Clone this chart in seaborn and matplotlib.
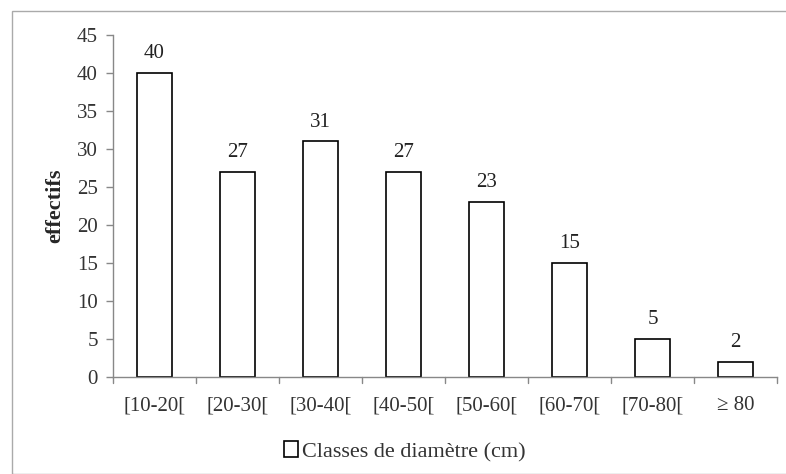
import matplotlib
matplotlib.use("Agg")
import matplotlib.pyplot as plt
import seaborn as sns
import pandas as pd
from matplotlib.patches import Rectangle

categories = ["[10-20[", "[20-30[", "[30-40[", "[40-50[", "[50-60[", "[60-70[", "[70-80[", "\u2265 80"]
values = [40, 27, 31, 27, 23, 15, 5, 2]
yticks = [0, 5, 10, 15, 20, 25, 30, 35, 40, 45]

sns.set_theme(style="white")
plt.rcParams['font.family'] = ['Liberation Serif', 'DejaVu Serif']

df = pd.DataFrame({"classe": categories, "effectifs": values})

fig = plt.figure(figsize=(7.86, 4.74), dpi=100)
fig.patch.set_facecolor("white")
ax = fig.add_axes([113/786, 1-377/474, (777-113)/786, (377-35)/474])

sns.barplot(data=df, x="classe", y="effectifs", color="white", edgecolor="black",
            linewidth=1.2, width=0.41, ax=ax, label="Classes de diamètre (cm)")

ax.set_ylim(0, 45)
ax.set_xlim(-0.5, len(categories) - 0.5)
ax.set_yticks(yticks)
ax.set_yticklabels([str(t) for t in yticks], fontsize=15, color="#333333")
ax.set_xticks(range(len(categories)))
ax.set_xticklabels(categories, fontsize=15, color="#333333")
ax.tick_params(axis="x", length=0, pad=14)
ax.tick_params(axis="y", length=5, width=1, color="#888888", left=True, pad=6)

# boundary ticks on x-axis
for b in [i - 0.5 for i in range(len(categories) + 1)]:
    ax.plot([b, b], [0, -0.8], color="#888888", lw=1, clip_on=False)

for s in ["top", "right"]:
    ax.spines[s].set_visible(False)
for s in ["left", "bottom"]:
    ax.spines[s].set_color("#888888")
    ax.spines[s].set_linewidth(1)

ax.set_xlabel("")
ax.set_ylabel("effectifs", fontsize=16, fontweight="bold", labelpad=8)

for i, v in enumerate(values):
    ax.text(i, v + 1.3, str(v), ha="center", va="bottom", fontsize=15, color="#222222")

leg = ax.legend(loc="upper center", bbox_to_anchor=(0.44, -0.13), frameon=False,
                fontsize=16, handlelength=0.6, handleheight=0.7, handletextpad=0.2)
for t in leg.get_texts():
    t.set_color("#333333")

fig.patches.append(Rectangle((12/786, 0), 1, 1 - 11/474, transform=fig.transFigure,
                             fill=False, edgecolor="#aaaaaa", lw=1))

fig.savefig("out.png", dpi=100)
